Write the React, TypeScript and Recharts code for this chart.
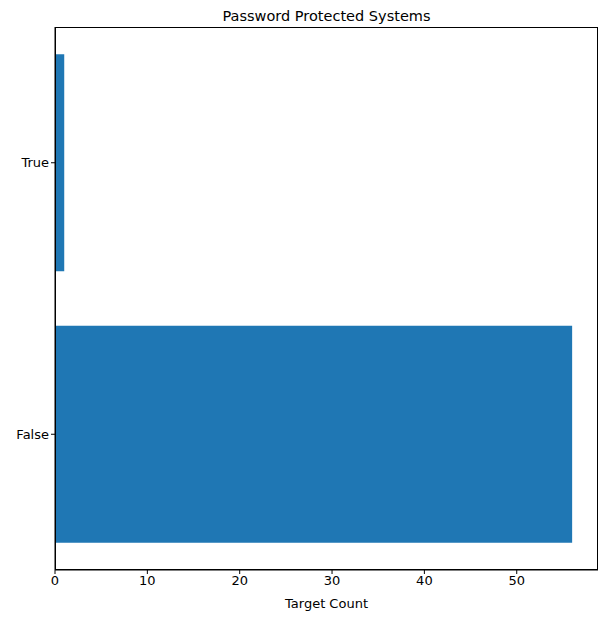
import { BarChart, Bar, XAxis, YAxis } from "recharts";

const categories = ["True", "False"];
const counts = [1, 56];
const xTicks = [0, 10, 20, 30, 40, 50];

const data = categories.map((name, i) => ({ name, value: counts[i] }));

const font = "DejaVu Sans, sans-serif";

export default function App() {
  return (
    <div style={{ position: "relative", width: 599, height: 614, fontFamily: font }}>
      <div
        style={{
          position: "absolute",
          left: 47,
          width: 543,
          top: 0,
          textAlign: "center",
          fontSize: 14.5,
          color: "#000",
        }}
      >
        Password Protected Systems
      </div>
      <BarChart
        width={599}
        height={614}
        data={data}
        layout="vertical"
        margin={{ top: 19, right: 9, bottom: 0, left: 0 }}
        barCategoryGap="10%"
      >
        <XAxis
          type="number"
          domain={[0, 58.8]}
          ticks={xTicks}
          tick={{ fontSize: 13, fill: "#000", fontFamily: font }}
          tickLine={{ stroke: "#000" }}
          tickSize={4}
          axisLine={{ stroke: "#000" }}
          height={52}
          label={{ value: "Target Count", position: "insideBottom", offset: 14, fontSize: 13, fill: "#000" }}
        />
        <YAxis
          type="category"
          dataKey="name"
          width={47}
          tick={{ fontSize: 13, fill: "#000", fontFamily: font }}
          tickLine={{ stroke: "#000" }}
          tickSize={4}
          axisLine={{ stroke: "#000" }}
        />
        <Bar dataKey="value" fill="#1f77b4" isAnimationActive={false} />
      </BarChart>
      <div
        style={{
          position: "absolute",
          left: 47,
          top: 19,
          width: 543,
          height: 543,
          border: "1px solid #000",
          boxSizing: "border-box",
          pointerEvents: "none",
        }}
      />
    </div>
  );
}
